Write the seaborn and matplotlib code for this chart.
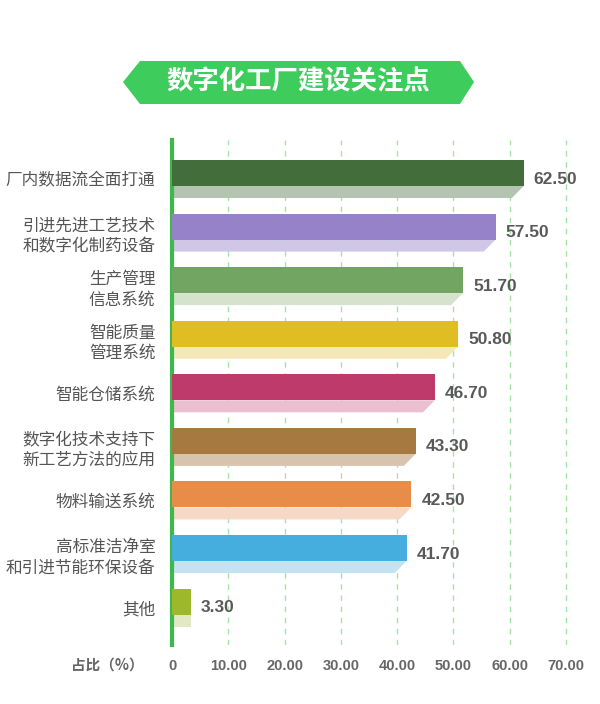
import matplotlib
matplotlib.use('Agg')
import matplotlib.pyplot as plt
from matplotlib.patches import Polygon
import seaborn as sns
import pandas as pd

categories = ['厂内数据流全面打通', '引进先进工艺技术\n和数字化制药设备', '生产管理\n信息系统',
              '智能质量\n管理系统', '智能仓储系统', '数字化技术支持下\n新工艺方法的应用',
              '物料输送系统', '高标准洁净室\n和引进节能环保设备', '其他']
values = [62.50, 57.50, 51.70, 50.80, 46.70, 43.30, 42.50, 41.70, 3.30]
main_colors = ['#436E3B', '#9682C8', '#72A562', '#E0BD22', '#BE3A6B',
               '#A67940', '#E88C4A', '#45AEDF', '#9DB82B']
shadow_colors = ['#B3C4B0', '#D0C6E6', '#D5E2CE', '#F5E8B8', '#EBBFCF',
                 '#D8C4AC', '#F6D8C6', '#C4E3F1', '#E2E8C4']
x_ticks = [0, 10, 20, 30, 40, 50, 60, 70]
title = '数字化工厂建设关注点'

sns.set_style('white')
plt.rcParams['font.family'] = ['Noto Sans CJK SC', 'DejaVu Sans']

df = pd.DataFrame({'cat': categories, 'val': values})

fig = plt.figure(figsize=(6, 7.04), dpi=100)
ax = fig.add_axes([0.2867, 0.0838, 0.7033, 0.7173])

bar_h = 0.485
shadow_h = 0.224
slant = 2.1
sns.barplot(data=df, x='val', y='cat', hue='cat', palette=main_colors,
            legend=False, width=bar_h, ax=ax, saturation=1, zorder=3,
            linewidth=0, edgecolor='none')

# lighter slanted "floor" under each bar
for i, v in enumerate(values):
    top = i + bar_h / 2
    bot = top + shadow_h
    s = slant if v > 10 else 0
    poly = Polygon([(0, top), (v, top), (v - s, bot), (0, bot)],
                   closed=True, facecolor=shadow_colors[i], edgecolor='none', zorder=2)
    ax.add_patch(poly)
    ax.text(v + 1.8, i + 0.112, f'{v:.2f}', va='center', ha='left',
            fontsize=12.5, fontweight='bold', color='#595959',
            family=['Liberation Sans', 'DejaVu Sans'])

ax.set_xlim(0, 75)
ax.set_ylim(8.81, -0.616)
ax.set_yticks([i + 0.112 for i in range(len(categories))])
ax.set_yticklabels(categories, fontsize=12, color='#555555', linespacing=1.25)
ax.set_xticks(x_ticks)
ax.set_xticklabels(['0'] + [f'{t:.2f}' for t in x_ticks[1:]], fontsize=10.5,
                   fontweight='bold', color='#666666',
                   family=['Liberation Sans', 'DejaVu Sans'])
ax.tick_params(axis='y', length=0, pad=12)
ax.tick_params(axis='x', length=0, pad=10)
ax.set_xlabel('')
ax.set_ylabel('')

for t in x_ticks[1:]:
    ax.axvline(t, color='#A6E3A6', lw=1, ls=(0, (4, 4)), zorder=1)

for side in ['top', 'right', 'bottom']:
    ax.spines[side].set_visible(False)
ax.spines['left'].set_color('#3DB94B')
ax.spines['left'].set_linewidth(3)

fig.text(144 / 600, 1 - 665 / 704, '占比（%）', ha='right', va='center',
         fontsize=10.5, fontweight='bold', color='#666666')

# title banner
bx = [123, 140, 460, 474, 460, 140]
by = [82, 61, 61, 82, 104, 104]
banner = Polygon([(x / 600, 1 - y / 704) for x, y in zip(bx, by)], closed=True,
                 transform=fig.transFigure, facecolor='#3ECC5C', edgecolor='none')
fig.patches.append(banner)
fig.text(298 / 600, 1 - 82 / 704, title, ha='center', va='center',
         fontsize=19, fontweight='bold', color='white')

fig.savefig('out.png', dpi=100)
